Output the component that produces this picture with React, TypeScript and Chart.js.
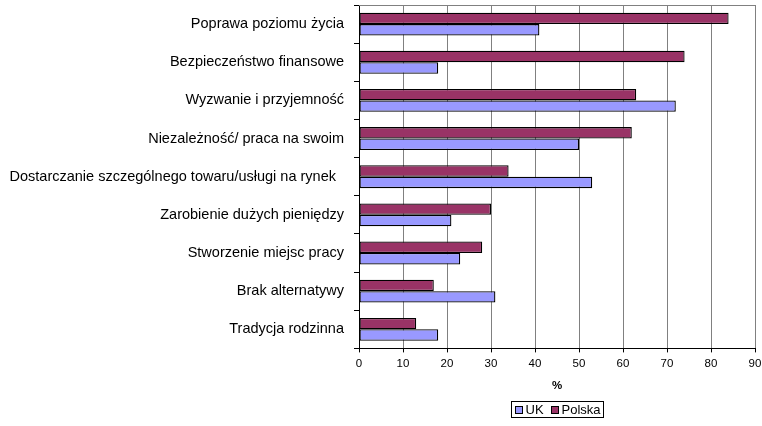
import React, { useEffect, useRef } from "react";
import { Chart, registerables } from "chart.js";

Chart.register(...registerables);

const categories = [
  "Poprawa poziomu życia",
  "Bezpieczeństwo finansowe",
  "Wyzwanie i przyjemność",
  "Niezależność/ praca na swoim",
  "Dostarczanie szczególnego towaru/usługi na rynek  ",
  "Zarobienie dużych pieniędzy",
  "Stworzenie miejsc pracy",
  "Brak alternatywy",
  "Tradycja rodzinna",
];

const polskaValues = [84, 74, 63, 62, 34, 30, 28, 17, 13];
const ukValues = [41, 18, 72, 50, 53, 21, 23, 31, 18];

const xTickValues = [0, 10, 20, 30, 40, 50, 60, 70, 80, 90];
const xAxisTitle = "%";

const legendItems = [
  { label: "UK", color: "#9999FF" },
  { label: "Polska", color: "#993366" },
];

const FONT = "'Liberation Sans', Arial, sans-serif";

const framePlugin = {
  id: "frame",
  beforeDatasetsDraw(chart: any) {
    const { ctx, chartArea } = chart;
    ctx.save();
    ctx.strokeStyle = "#808080";
    ctx.lineWidth = 1;
    ctx.beginPath();
    ctx.moveTo(chartArea.left, Math.round(chartArea.top) + 0.5);
    ctx.lineTo(chartArea.right, Math.round(chartArea.top) + 0.5);
    ctx.stroke();
    ctx.restore();
  },
  afterDraw(chart: any) {
    const { ctx, chartArea } = chart;
    ctx.save();
    ctx.font = `13px ${FONT}`;
    ctx.textBaseline = "middle";
    const box = 8;
    const gap = 3;
    const itemGap = 7;
    const padX = 3;
    const widths = legendItems.map((it) => box + gap + ctx.measureText(it.label).width);
    const total = widths.reduce((a, b) => a + b, 0) + itemGap * (legendItems.length - 1) + padX * 2;
    const cx = (chartArea.left + chartArea.right) / 2;
    const left = Math.round(cx - total / 2) + 0.5;
    const top = 401.5;
    const h = 16;
    ctx.strokeStyle = "#000";
    ctx.lineWidth = 1;
    ctx.strokeRect(left, top, Math.round(total), h);
    let x = left + padX;
    const cy = top + h / 2;
    legendItems.forEach((it, i) => {
      ctx.fillStyle = it.color;
      ctx.fillRect(Math.round(x), Math.round(cy - box / 2), box, box);
      ctx.strokeRect(Math.round(x) + 0.5, Math.round(cy - box / 2) + 0.5, box - 1, box - 1);
      ctx.fillStyle = "#000";
      ctx.fillText(it.label, x + box + gap, cy + 0.5);
      x += widths[i] + itemGap;
    });
    ctx.restore();
  },
};

export default function App() {
  const ref = useRef<HTMLCanvasElement | null>(null);
  useEffect(() => {
    if (!ref.current) return;
    const chart = new Chart(ref.current, {
      type: "bar",
      data: {
        labels: categories,
        datasets: [
          {
            label: "Polska",
            data: polskaValues,
            backgroundColor: "#993366",
            borderColor: "#000000",
            borderWidth: 1.3,
            borderSkipped: false,
          },
          {
            label: "UK",
            data: ukValues,
            backgroundColor: "#9999FF",
            borderColor: "#000000",
            borderWidth: 1.3,
            borderSkipped: false,
          },
        ],
      },
      options: {
        indexAxis: "y",
        responsive: false,
        animation: false,
        events: [],
        layout: { padding: { top: 5, right: 0, bottom: 33, left: 0 } },
        datasets: { bar: { categoryPercentage: 0.6, barPercentage: 1 } },
        plugins: {
          legend: { display: false },
          tooltip: { enabled: false },
        },
        scales: {
          x: {
            min: 0,
            max: 90,
            afterBuildTicks(scale: any) {
              scale.ticks = xTickValues.map((v) => ({ value: v }));
            },
            afterFit(scale: any) {
              scale.paddingRight = 7;
              scale.paddingLeft = 0;
            },
            grid: {
              color: "#808080",
              lineWidth: 1,
              drawTicks: true,
              tickLength: 4,
              tickColor: "#000000",
            },
            border: { display: true, color: "#000000", width: 1 },
            ticks: {
              color: "#000000",
              font: { family: FONT, size: 11.5 },
              padding: 5,
              maxRotation: 0,
            },
            title: {
              display: true,
              text: xAxisTitle,
              color: "#000000",
              font: { family: FONT, size: 11.5, weight: "bold" },
              padding: { top: 3, bottom: 0 },
            },
          },
          y: {
            afterFit(scale: any) {
              scale.width = 359;
              scale.paddingTop = 0;
              scale.paddingBottom = 0;
            },
            grid: {
              offset: true,
              drawOnChartArea: false,
              drawTicks: true,
              tickLength: 5,
              tickColor: "#000000",
            },
            border: { display: true, color: "#000000", width: 1 },
            ticks: {
              color: "#000000",
              font: { family: FONT, size: 14.5 },
              padding: 10,
              autoSkip: false,
            },
          },
        },
      },
      plugins: [framePlugin],
    } as any);
    return () => chart.destroy();
  }, []);
  return (
    <div style={{ position: "absolute", left: 0, top: 0, width: 762, height: 426, background: "#fff" }}>
      <canvas ref={ref} width={762} height={426} style={{ display: "block" }} />
    </div>
  );
}
